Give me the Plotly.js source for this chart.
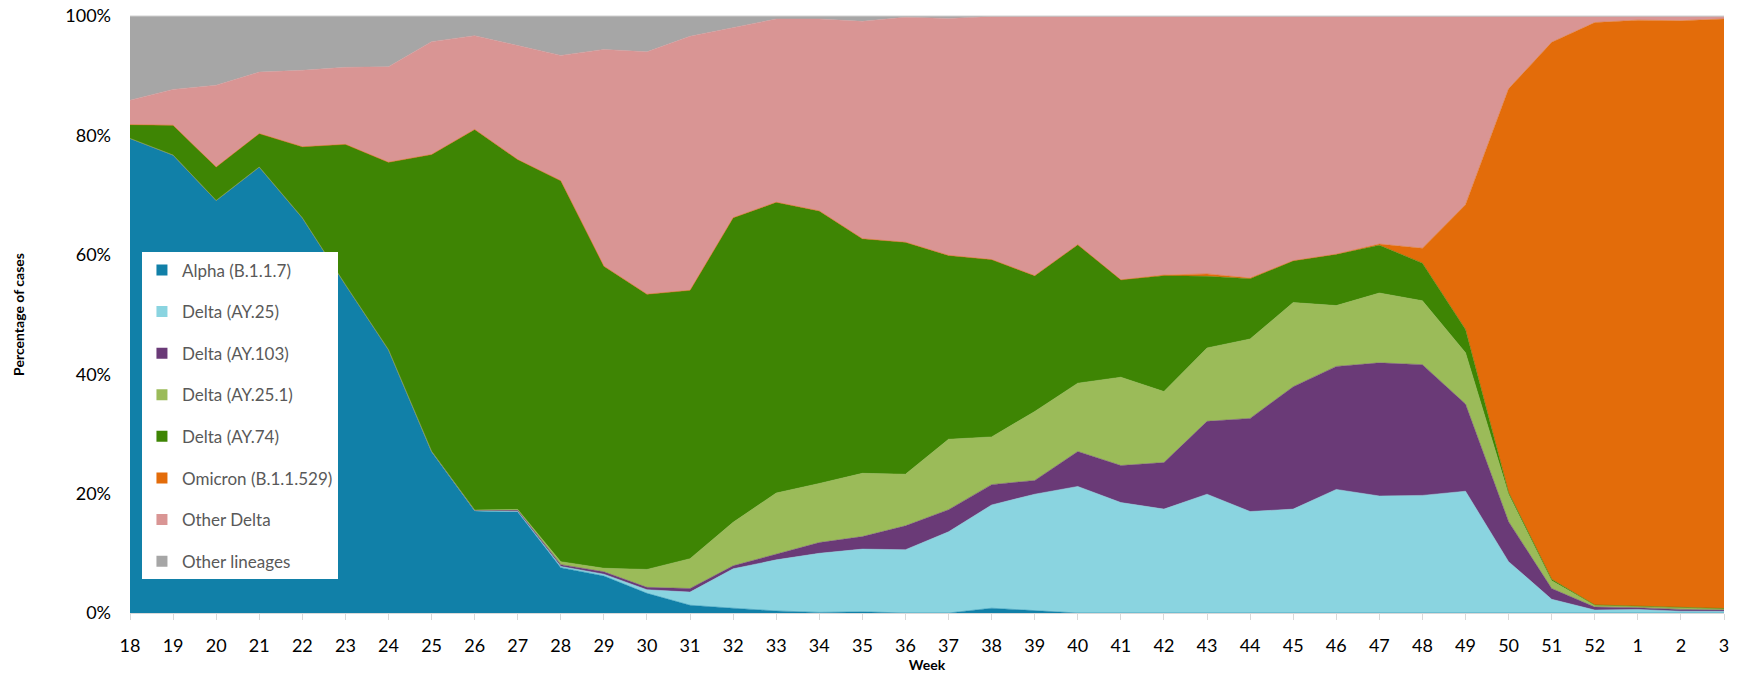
<!DOCTYPE html>
<html>
<head>
<meta charset="utf-8">
<script src="https://cdn.plot.ly/plotly-3.0.1.min.js"></script>
<style>html,body{margin:0;padding:0;background:#fff;}#chart{width:1744px;height:673px;}</style>
</head>
<body>
<div id="chart"></div>
<script>
const weeks = ['18','19','20','21','22','23','24','25','26','27','28','29','30','31','32','33','34','35','36','37','38','39','40','41','42','43','44','45','46','47','48','49','50','51','52','1','2','3'];
const yTickVals = [0, 20, 40, 60, 80, 100];
const yTickText = ['0%', '20%', '40%', '60%', '80%', '100%'];

const alpha = [79.5,76.7,69.1,74.7,66.2,55.0,44.1, 27.0,17.1,16.9,7.6,6.2,3.3,1.3, 0.8,0.35,0.1,0.2,0,0,0.8, 0.35,0,0,0,0,0,0, 0,0,0,0,0,0,0, 0,0,0];
const ay25 = [0,0,0,0,0,0,0, 0.05,0.05,0.1,0.2,0.3,0.6,2.2, 6.6,8.55,9.9,10.5,10.6,13.6,17.3, 19.55,21.2,18.5,17.4,19.9,17.0,17.4, 20.7,19.6,19.7,20.4,8.6,2.3,0.5, 0.6,0.3,0.3];
const ay103 = [0,0,0,0,0,0,0, 0.05,0.05,0.2,0.3,0.4,0.4,0.6, 0.5,0.9,1.8,2.1,4.0,3.7,3.4, 2.3,5.85,6.2,7.8,12.2,15.6,20.5, 20.6,22.3,21.9,14.6,6.7,1.8,0.5, 0.3,0.3,0.2];
const ay251 = [0,0,0,0,0,0,0, 0,0.05,0.15,0.5,0.6,3.0,5.0, 7.3,10.3,9.9,10.6,8.65,11.8,8.0, 11.55,11.45,14.8,11.9,12.3,13.3,14.1, 10.2,11.7,10.7,8.6,4.6,1.3,0.3, 0.2,0.3,0.2];
const ay74 = [2.3,5.0,5.6,5.6,11.9,23.5,31.4, 49.7,63.75,58.6,63.8,50.6,46.1,44.95, 51.0,48.7,45.65,39.3,38.85,30.8,29.7, 22.75,23.2,16.3,19.4,12.0,10.1,7.0, 8.6,8.0,6.3,3.9,0.3,0.25,0.05, 0.05,0.05,0.05];
const omicron = [0,0,0,0,0,0,0, 0,0,0,0,0,0,0, 0,0,0,0,0,0,0, 0,0,0,0.1,0.4,0.1,0, 0,0.2,2.5,20.9,67.6,89.95,97.55, 98.15,98.25,98.75];
const otherDelta = [4.1,6.0,13.7,10.3,12.8,12.9,16.0, 18.9,15.7,19.15,21.0,36.3,40.6,42.55, 31.8,30.7,32.15,36.4,37.7,39.7,40.7, 43.4,38.2,44.1,43.3,43.1,43.8,40.9, 39.8,38.1,38.8,31.5,12.1,4.3,1.0, 0.6,0.7,0.4];
const otherLineages = [14.1,12.3,11.6,9.4,9.1,8.6,8.5, 4.3,3.3,4.9,6.6,5.6,6.0,3.4, 2.0,0.5,0.5,0.9,0.2,0.4,0.1, 0.1,0.1,0.1,0.1,0.1,0.1,0.1, 0.1,0.1,0.1,0.1,0.1,0.1,0.1, 0.1,0.1,0.1];

const seriesNames = ['Alpha (B.1.1.7)','Delta (AY.25)','Delta (AY.103)','Delta (AY.25.1)','Delta (AY.74)','Omicron (B.1.1.529)','Other Delta','Other lineages'];
const seriesValues = [alpha, ay25, ay103, ay251, ay74, omicron, otherDelta, otherLineages];
const seriesColors = ['#1180A8','#8AD4E0','#6A3A77','#9BBB59','#3E8504','#E36C0A','#D99594','#A6A6A6'];

const traces = [];
seriesValues.forEach((vals, i) => {
  traces.push({
    type: 'scatter', mode: 'lines', x: weeks, y: vals,
    stackgroup: 'one', groupnorm: 'percent',
    line: {width: 0.5, color: seriesColors[i]},
    fillcolor: seriesColors[i],
    name: seriesNames[i], showlegend: false, hoverinfo: 'skip'
  });
});
seriesNames.forEach((n, i) => {
  traces.push({
    type: 'scatter', mode: 'markers', x: [null], y: [null],
    marker: {symbol: 'square', size: 11, color: seriesColors[i]},
    name: n, legendgroup: 'g' + i, showlegend: true, hoverinfo: 'skip'
  });
});

const font = 'Lato, "Open Sans", sans-serif';
const layout = {
  width: 1744, height: 673,
  margin: {l: 130, r: 20, t: 16, b: 60},
  paper_bgcolor: '#fff', plot_bgcolor: '#fff',
  font: {family: font, color: '#000'},
  showlegend: true,
  legend: {
    x: 0.0075, y: 0.604, xanchor: 'left', yanchor: 'top',
    bgcolor: '#fff', borderwidth: 0,
    font: {size: 17, color: '#595959', family: font},
    traceorder: 'grouped', tracegroupgap: 16.5, itemwidth: 30
  },
  xaxis: {
    type: 'category', range: [0, weeks.length - 1],
    ticks: 'outside', ticklen: 6, tickcolor: '#d9d9d9',
    showline: true, linecolor: '#d9d9d9',
    showgrid: false, zeroline: false,
    tickfont: {size: 18, color: '#000'},
    ticklabelstandoff: 10,
    title: {text: '<b>Week</b>', font: {size: 14, color: '#000'}, standoff: 8}
  },
  yaxis: {
    range: [0, 100], tickmode: 'array', tickvals: yTickVals, ticktext: yTickText,
    showgrid: false, zeroline: false, showline: false, ticks: '',
    tickfont: {size: 18, color: '#000'},
    ticklabelstandoff: 18,
    title: {text: '<b>Percentage of cases</b>', font: {size: 14, color: '#000'}, standoff: 37}
  },
  shapes: [{type: 'line', xref: 'paper', yref: 'paper', x0: 0, x1: 1, y0: 1, y1: 1, line: {color: '#d0d0d0', width: 1}}]
};

Plotly.newPlot('chart', traces, layout, {displayModeBar: false, staticPlot: true});
</script>
</body>
</html>
